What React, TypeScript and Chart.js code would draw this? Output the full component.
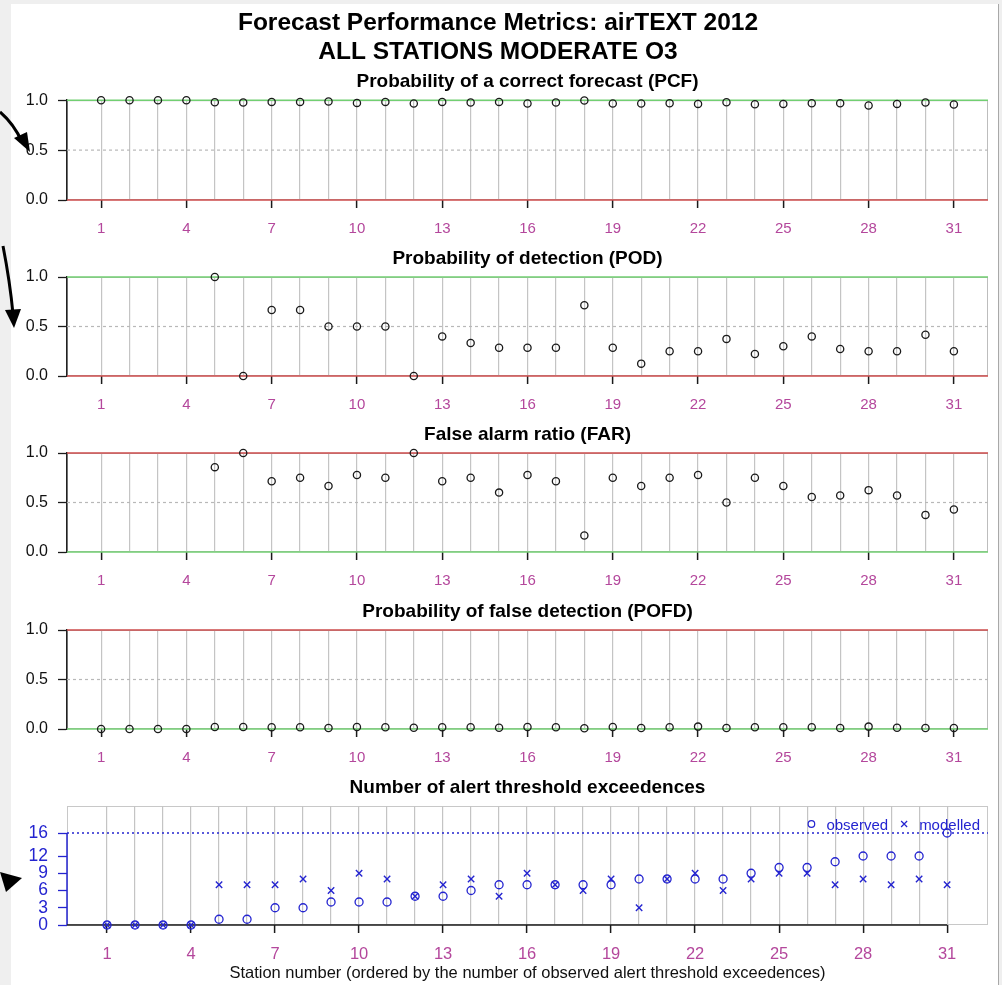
import React, { useEffect, useRef } from 'react';
import { Chart, registerables } from 'chart.js';

Chart.register(...registerables);
Chart.defaults.font.family = '"Liberation Sans", Arial, sans-serif';

// ---------------- data ----------------
const stations = [1, 2, 3, 4, 5, 6, 7, 8, 9, 10, 11, 12, 13, 14, 15, 16, 17, 18, 19, 20, 21, 22, 23, 24, 25, 26, 27, 28, 29, 30, 31];
const labeledStations = [1, 4, 7, 10, 13, 16, 19, 22, 25, 28, 31];

const pcf = [1, 1, 1, 1, 0.98, 0.977, 0.983, 0.983, 0.987, 0.973, 0.983, 0.967, 0.983, 0.977, 0.983, 0.967, 0.977, 0.997, 0.967, 0.967, 0.97, 0.963, 0.98, 0.96, 0.963, 0.97, 0.97, 0.947, 0.963, 0.977, 0.957];
const pod = [null, null, null, null, 1, 0, 0.667, 0.667, 0.5, 0.5, 0.5, 0, 0.4, 0.333, 0.286, 0.286, 0.286, 0.714, 0.286, 0.125, 0.25, 0.25, 0.375, 0.222, 0.3, 0.4, 0.273, 0.25, 0.25, 0.417, 0.25];
const far = [null, null, null, null, 0.857, 1, 0.714, 0.75, 0.667, 0.778, 0.75, 1, 0.714, 0.75, 0.6, 0.778, 0.714, 0.167, 0.75, 0.667, 0.75, 0.778, 0.5, 0.75, 0.667, 0.556, 0.571, 0.625, 0.571, 0.375, 0.429];
const pofd = [0, 0, 0, 0, 0.02, 0.02, 0.017, 0.017, 0.01, 0.02, 0.017, 0.013, 0.017, 0.017, 0.013, 0.02, 0.017, 0.007, 0.02, 0.01, 0.017, 0.024, 0.01, 0.017, 0.017, 0.017, 0.01, 0.024, 0.013, 0.01, 0.01];
const observed = [0, 0, 0, 0, 1, 1, 3, 3, 4, 4, 4, 5, 5, 6, 7, 7, 7, 7, 7, 8, 8, 8, 8, 9, 10, 10, 11, 12, 12, 12, 16];
const modelled = [0, 0, 0, 0, 7, 7, 7, 8, 6, 9, 8, 5, 7, 8, 5, 9, 7, 6, 8, 3, 8, 9, 6, 8, 9, 9, 7, 8, 7, 8, 7];

const probTicks = [0, 0.5, 1];
const countTicks = [0, 3, 6, 9, 12, 16];
const maxObservedLine = 16;

const mainTitle = ['Forecast Performance Metrics: airTEXT 2012', 'ALL STATIONS MODERATE O3'];
const panelTitles = [
  'Probability of a correct forecast (PCF)',
  'Probability of detection (POD)',
  'False alarm ratio (FAR)',
  'Probability of false detection (POFD)',
  'Number of alert threshold exceedences',
];
const xAxisTitle = 'Station number (ordered by the number of observed alert threshold exceedences)';
const legendLabels = ['observed', 'modelled'];

// ---------------- style ----------------
const GREEN = '#72cf72';
const RED = '#cc4b4b';
const GRIDGRAY = '#c4c4c4';
const DOTGRAY = '#b8b8b8';
const MAGENTA = '#b4479c';
const BLUE = '#2424d0';
const BLACK = '#1a1a1a';
const FONT = '"Liberation Sans", Arial, sans-serif';

const X_TOP = { min: -0.2, max: 32.2 };
const X_BOT = { min: -0.43, max: 32.46 };
const PAD = { left: 8, right: 14, top: 0, bottom: 0 };
const Y_AXIS_WIDTH = 59;

const framePlugin = {
  id: 'frame',
  beforeDraw(chart: any, _args: any, opts: any) {
    const { ctx, chartArea: a } = chart;
    ctx.save();
    ctx.strokeStyle = opts.color || '#bdbdbd';
    ctx.lineWidth = 1;
    ctx.strokeRect(a.left + 0.5, a.top + 0.5, a.width - 1, a.height - 1);
    ctx.restore();
  },
};

const countAxesPlugin = {
  id: 'countAxes',
  beforeDatasetsDraw(chart: any) {
    const { ctx, chartArea: a, scales } = chart;
    const ys = scales.y;
    const xs = scales.x;
    ctx.save();
    ctx.strokeStyle = BLUE;
    ctx.lineWidth = 1.5;
    ctx.beginPath();
    ctx.moveTo(a.left, ys.getPixelForValue(countTicks[0]));
    ctx.lineTo(a.left, ys.getPixelForValue(countTicks[countTicks.length - 1]));
    ctx.stroke();
    ctx.strokeStyle = BLACK;
    ctx.beginPath();
    const y0 = ys.getPixelForValue(0);
    ctx.moveTo(a.left, y0);
    ctx.lineTo(xs.getPixelForValue(stations[stations.length - 1]), y0);
    ctx.stroke();
    ctx.restore();
  },
  afterDatasetsDraw(chart: any) {
    const { ctx, chartArea: a } = chart;
    const y = a.top + 20;
    ctx.save();
    ctx.font = '15px ' + FONT;
    ctx.fillStyle = BLUE;
    ctx.strokeStyle = BLUE;
    ctx.lineWidth = 1.2;
    ctx.textBaseline = 'middle';
    ctx.textAlign = 'left';
    const wMod = ctx.measureText(legendLabels[1]).width;
    const wObs = ctx.measureText(legendLabels[0]).width;
    const modLeft = a.right - 8 - wMod;
    ctx.fillText(legendLabels[1], modLeft, y);
    const crossX = modLeft - 15;
    const s = 3;
    ctx.beginPath();
    ctx.moveTo(crossX - s, y - s - 2);
    ctx.lineTo(crossX + s, y + s - 2);
    ctx.moveTo(crossX + s, y - s - 2);
    ctx.lineTo(crossX - s, y + s - 2);
    ctx.stroke();
    const obsLeft = crossX - 16 - wObs;
    ctx.fillText(legendLabels[0], obsLeft, y);
    ctx.beginPath();
    ctx.arc(obsLeft - 15, y - 2, 3.3, 0, Math.PI * 2);
    ctx.stroke();
    ctx.restore();
  },
};

function hLine(y: number, color: string, range: { min: number; max: number }, dash: number[] = [], width = 1.5) {
  return {
    type: 'line',
    data: [{ x: range.min, y }, { x: range.max, y }],
    borderColor: color,
    borderWidth: width,
    borderDash: dash,
    pointRadius: 0,
    showLine: true,
    clip: 4,
  };
}

function xScale(range: { min: number; max: number }, height: number, fontSize: number, extra: any = {}) {
  return {
    type: 'linear',
    min: range.min,
    max: range.max,
    afterBuildTicks: (s: any) => {
      s.ticks = stations.map((v) => ({ value: v }));
    },
    afterFit: (s: any) => {
      s.height = height;
    },
    grid: {
      color: GRIDGRAY,
      lineWidth: 1.2,
      drawTicks: true,
      tickLength: 8,
      tickWidth: 1.5,
      tickColor: (c: any) => (c.tick && labeledStations.includes(c.tick.value) ? BLACK : 'rgba(0,0,0,0)'),
    },
    border: { display: false },
    ticks: {
      autoSkip: false,
      maxRotation: 0,
      padding: 12,
      color: MAGENTA,
      font: { size: fontSize },
      callback: (v: any) => (labeledStations.includes(v) ? String(v) : ''),
    },
    ...extra,
  };
}

const PANEL_TITLE_FONT = { size: 19, weight: 'bold', lineHeight: 1.2 };

function probConfig(values: (number | null)[], panel: number, topColor: string, bottomColor: string) {
  const plugins: any = {
    legend: { display: false },
    tooltip: { enabled: false },
    frame: { color: '#bdbdbd' },
  };
  if (panel === 0) {
    plugins.title = {
      display: true,
      text: mainTitle,
      color: '#000',
      font: { size: 24.5, weight: 'bold', lineHeight: 1.18 },
      padding: { top: 8.6, bottom: 0.5 },
      fullSize: true,
    };
    plugins.subtitle = {
      display: true,
      text: panelTitles[panel],
      color: '#000',
      font: PANEL_TITLE_FONT,
      padding: { top: 3.9, bottom: 6.6 },
      fullSize: false,
    };
  } else {
    plugins.title = {
      display: true,
      text: panelTitles[panel],
      color: '#000',
      font: PANEL_TITLE_FONT,
      padding: { top: 10.6, bottom: 6.6 },
      fullSize: false,
    };
  }
  return {
    type: 'scatter',
    data: {
      datasets: [
        {
          label: panelTitles[panel],
          data: stations.map((s, i) => ({ x: s, y: values[i] })),
          pointStyle: 'circle',
          pointRadius: 3.6,
          pointBorderWidth: 1.3,
          pointBorderColor: BLACK,
          pointBackgroundColor: 'rgba(0,0,0,0)',
          showLine: false,
          clip: 8,
        },
        hLine(1, topColor, X_TOP),
        hLine(0.5, DOTGRAY, X_TOP, [3, 3], 1.2),
        hLine(0, bottomColor, X_TOP),
      ],
    },
    options: {
      responsive: false,
      animation: false,
      events: [],
      layout: { padding: PAD },
      plugins,
      scales: {
        x: xScale(X_TOP, 40, 15),
        y: {
          type: 'linear',
          min: 0,
          max: 1,
          afterBuildTicks: (s: any) => {
            s.ticks = probTicks.map((v) => ({ value: v }));
          },
          afterFit: (s: any) => {
            s.width = Y_AXIS_WIDTH;
          },
          grid: { drawOnChartArea: false, drawTicks: true, tickLength: 9, tickColor: BLACK, tickWidth: 1.3 },
          border: { display: true, color: '#222', width: 1.5 },
          ticks: { autoSkip: false, padding: 10, color: '#111', font: { size: 16 }, callback: (v: any) => Number(v).toFixed(1) },
        },
      },
    },
    plugins: [framePlugin],
  };
}

function countConfig() {
  return {
    type: 'scatter',
    data: {
      datasets: [
        {
          label: legendLabels[0],
          data: stations.map((s, i) => ({ x: s, y: observed[i] })),
          pointStyle: 'circle',
          pointRadius: 4,
          pointBorderWidth: 1.3,
          pointBorderColor: BLUE,
          pointBackgroundColor: 'rgba(0,0,0,0)',
          showLine: false,
          clip: 8,
        },
        {
          label: legendLabels[1],
          data: stations.map((s, i) => ({ x: s, y: modelled[i] })),
          pointStyle: 'crossRot',
          pointRadius: 4.5,
          pointBorderWidth: 1.4,
          pointBorderColor: BLUE,
          pointBackgroundColor: 'rgba(0,0,0,0)',
          showLine: false,
          clip: 8,
        },
        hLine(maxObservedLine, BLUE, X_BOT, [2, 3], 1.4),
      ],
    },
    options: {
      responsive: false,
      animation: false,
      events: [],
      layout: { padding: PAD },
      plugins: {
        legend: { display: false },
        tooltip: { enabled: false },
        frame: { color: '#c8c8c8' },
        title: {
          display: true,
          text: panelTitles[4],
          color: '#000',
          font: PANEL_TITLE_FONT,
          padding: { top: 10.6, bottom: 6.6 },
          fullSize: false,
        },
      },
      scales: {
        x: xScale(X_BOT, 60, 16.5, {
          title: {
            display: true,
            text: xAxisTitle,
            color: '#111',
            font: { size: 16.5, lineHeight: 1.2 },
            padding: { top: 0, bottom: 2 },
          },
        }),
        y: {
          type: 'linear',
          min: 0,
          max: 20.7,
          afterBuildTicks: (s: any) => {
            s.ticks = countTicks.map((v) => ({ value: v }));
          },
          afterFit: (s: any) => {
            s.width = Y_AXIS_WIDTH;
          },
          grid: { drawOnChartArea: false, drawTicks: true, tickLength: 9, tickColor: BLUE, tickWidth: 1.3 },
          border: { display: false },
          ticks: { autoSkip: false, padding: 10, color: BLUE, font: { size: 17.5 }, callback: (v: any) => String(v) },
        },
      },
    },
    plugins: [framePlugin, countAxesPlugin],
  };
}

function Panel({ top, height, config }: { top: number; height: number; config: any }) {
  const ref = useRef<HTMLCanvasElement>(null);
  useEffect(() => {
    const chart = new Chart(ref.current as HTMLCanvasElement, config);
    return () => chart.destroy();
  }, []);
  return (
    <canvas
      ref={ref}
      width={1002}
      height={height}
      style={{ position: 'absolute', left: 0, top, width: 1002, height, display: 'block' }}
    />
  );
}

export default function App() {
  return (
    <div style={{ position: 'absolute', left: 0, top: 0, width: 1002, height: 985, overflow: 'hidden', background: '#efefef' }}>
      <div style={{ position: 'absolute', left: 11, top: 4, width: 987, height: 981, background: '#fff', borderRight: '1px solid #a8a8a8' }} />
      <Panel top={0} height={240} config={probConfig(pcf, 0, GREEN, RED)} />
      <Panel top={237} height={179} config={probConfig(pod, 1, GREEN, RED)} />
      <Panel top={413} height={179} config={probConfig(far, 2, RED, GREEN)} />
      <Panel top={590} height={179} config={probConfig(pofd, 3, RED, GREEN)} />
      <Panel top={766} height={219} config={countConfig()} />
      <svg width={40} height={985} style={{ position: 'absolute', left: 0, top: 0 }}>
        <path d="M0 112 Q14 124 22 142" stroke="#000" strokeWidth={3} fill="none" />
        <polygon points="14,138 30,152 27,132" fill="#000" />
        <path d="M3 246 Q10 282 13 314" stroke="#000" strokeWidth={3} fill="none" />
        <polygon points="5,310 14,328 21,309" fill="#000" />
        <polygon points="0,872 22,878 6,892" fill="#000" />
      </svg>
    </div>
  );
}
